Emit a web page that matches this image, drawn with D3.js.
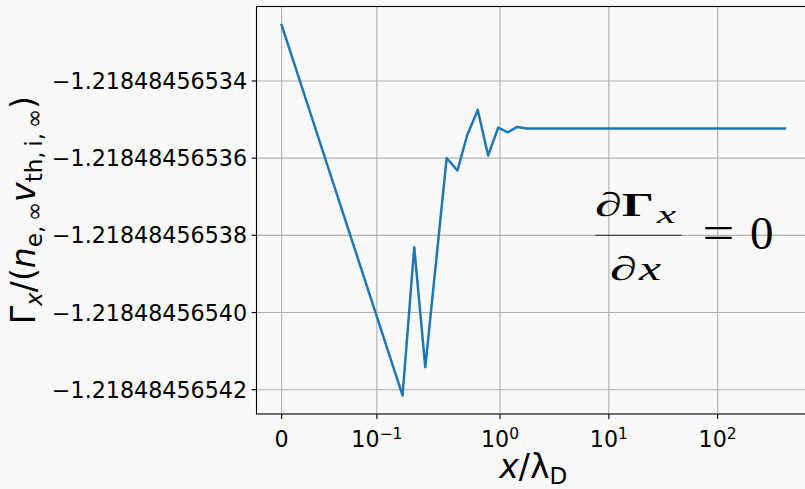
<!DOCTYPE html>
<html>
<head>
<meta charset="utf-8">
<script src="https://cdn.jsdelivr.net/npm/d3@7"></script>
<style>
  html, body { margin: 0; padding: 0; background: #f9f9f9; }
  svg { display: block; font-family: "DejaVu Sans", sans-serif; }
</style>
</head>
<body>
<svg width="805" height="489"></svg>
<script>
// sample positions x / lambda_D
var xValues = [0, 0.127, 0.1627, 0.2055, 0.323, 0.406, 0.4996, 0.624, 0.777, 0.961,
  1.175, 1.436, 1.756, 2.2, 3.5, 10, 40, 150, 415.5];
// normalised particle flux at each sample
var fluxValues = [-1.2184845653255, -1.2184845654215, -1.2184845653831, -1.2184845654142,
  -1.2184845653600, -1.2184845653632, -1.2184845653540, -1.2184845653475, -1.2184845653593,
  -1.2184845653521, -1.2184845653533, -1.2184845653519, -1.2184845653523, -1.2184845653523,
  -1.2184845653523, -1.2184845653523, -1.2184845653523, -1.2184845653523, -1.2184845653523];

var xTickValues = [0, 0.1, 1, 10, 100];
var xTickExponents = [null, '\u22121', '0', '1', '2'];
var yTickValues = [-1.21848456542, -1.21848456540, -1.21848456538, -1.21848456536, -1.21848456534];

// matplotlib style symlog (linthresh, linscale = 1)
var linthresh = 0.127,
  linscaleAdj = 1 / (1 - 1 / 10);

function symlog(v) {
  var a = Math.abs(v);
  var t = a <= linthresh ? a * linscaleAdj : linthresh * (linscaleAdj + Math.log10(a / linthresh));
  return v < 0 ? -t : t;
}

var plotLeft = 256.5, plotRight = 810.1, plotTop = 6.5, plotBottom = 414;
var tickFont = 22.2, labelFont = 33;

var svg = d3.select('svg');
svg.append('rect').attr('width', 805).attr('height', 489).attr('fill', '#f9f9f9');

// 5% margins like matplotlib autoscale
var tExtent = d3.extent(xValues.map(symlog));
var tPad = (tExtent[1] - tExtent[0]) * 0.05;
var xLin = d3.scaleLinear().domain([tExtent[0] - tPad, tExtent[1] + tPad]).range([plotLeft, plotRight]);
function x(v) { return xLin(symlog(v)); }

var yExtent = d3.extent(fluxValues);
var yPad = (yExtent[1] - yExtent[0]) * 0.05;
var y = d3.scaleLinear().domain([yExtent[0] - yPad, yExtent[1] + yPad]).range([plotBottom, plotTop]);

// grid
var grid = svg.append('g').attr('stroke', '#b0b0b0').attr('stroke-width', 1.1);
grid.selectAll('line.vx').data(xTickValues).enter().append('line')
  .attr('x1', x).attr('x2', x).attr('y1', plotTop).attr('y2', plotBottom);
grid.selectAll('line.hy').data(yTickValues).enter().append('line')
  .attr('x1', plotLeft).attr('x2', plotRight).attr('y1', y).attr('y2', y);

// flux curve
var line = d3.line()
  .x(function(d, i) { return x(xValues[i]); })
  .y(function(d) { return y(d); });

svg.append('path')
  .datum(fluxValues)
  .attr('d', line)
  .attr('fill', 'none')
  .attr('stroke', '#1f77b4')
  .attr('stroke-width', 2.5)
  .attr('stroke-linejoin', 'round')
  .attr('stroke-linecap', 'square');

// spines
svg.append('rect')
  .attr('x', plotLeft).attr('y', plotTop)
  .attr('width', plotRight - plotLeft).attr('height', plotBottom - plotTop)
  .attr('fill', 'none').attr('stroke', '#000').attr('stroke-width', 1.1);

// x ticks
var xt = svg.append('g');
xt.selectAll('line').data(xTickValues).enter().append('line')
  .attr('x1', x).attr('x2', x).attr('y1', plotBottom).attr('y2', plotBottom + 4.9)
  .attr('stroke', '#000').attr('stroke-width', 1.1);
xTickValues.forEach(function(v, i) {
  var t = xt.append('text')
    .attr('x', x(v))
    .attr('y', 446.5)
    .attr('text-anchor', 'middle')
    .attr('font-size', tickFont)
    .attr('fill', '#000');
  if (xTickExponents[i] === null) {
    t.text('0');
  } else {
    t.append('tspan').text('10');
    t.append('tspan').attr('font-size', tickFont * 0.7).attr('dy', -8).text(xTickExponents[i]);
  }
});

// y ticks
var yt = svg.append('g');
yt.selectAll('line').data(yTickValues).enter().append('line')
  .attr('x1', plotLeft - 4.9).attr('x2', plotLeft).attr('y1', y).attr('y2', y)
  .attr('stroke', '#000').attr('stroke-width', 1.1);
yt.selectAll('text').data(yTickValues).enter().append('text')
  .attr('x', plotLeft - 9.5)
  .attr('y', function(d) { return y(d) + 8; })
  .attr('text-anchor', 'end')
  .attr('font-size', tickFont)
  .attr('fill', '#000')
  .text(function(d) { return d.toFixed(11).replace('-', '\u2212'); });

// math-ish label from pieces
function mathText(sel, pieces, size) {
  var shift = 0;
  pieces.forEach(function(p) {
    var want = p.sub ? size * 0.2 : 0;
    var ts = sel.append('tspan')
      .attr('dy', want - shift)
      .attr('font-size', p.sub ? size * 0.7 : size)
      .text(p.t);
    if (p.it) ts.attr('font-style', 'italic');
    shift = want;
  });
}

var xLabel = svg.append('text')
  .attr('x', (plotLeft + plotRight) / 2)
  .attr('y', 477.5)
  .attr('text-anchor', 'middle')
  .attr('fill', '#000');
mathText(xLabel, [
  { t: 'x', it: true }, { t: '/\u03bb' }, { t: 'D', sub: true }
], labelFont);

var yLabel = svg.append('text')
  .attr('transform', 'translate(35,' + ((plotTop + plotBottom) / 2) + ') rotate(-90)')
  .attr('text-anchor', 'middle')
  .attr('fill', '#000');
mathText(yLabel, [
  { t: '\u0393' }, { t: 'x', it: true, sub: true }, { t: '/(' },
  { t: 'n', it: true }, { t: 'e,\u2009\u221e', sub: true },
  { t: 'v', it: true }, { t: 'th,\u2009i,\u2009\u221e', sub: true }, { t: ')' }
], labelFont);

// annotation d Gamma_x / dx = 0
var ax = x(50), ay = y(-1.21848456538);
var note = svg.append('g')
  .attr('transform', 'translate(' + ax + ',' + ay + ')')
  .attr('font-family', '"Liberation Serif", serif')
  .attr('fill', '#000');

function glyph(t, gx, gy, size, w, style) {
  var el = note.append('text').attr('x', gx).attr('y', gy).attr('font-size', size)
    .attr('textLength', w).attr('lengthAdjust', 'spacingAndGlyphs').text(t);
  if (style === 'italic') el.attr('font-style', 'italic');
  if (style === 'bold') el.attr('font-weight', 'bold');
  return el;
}

// numerator
glyph('\u2202', -90, -19, 34, 27, 'italic');
glyph('\u0393', -63, -19, 33, 32, 'bold');
glyph('x', -28, -12, 25, 19, 'italic');

note.append('line')
  .attr('x1', -89.5).attr('x2', -3.5).attr('y1', 0).attr('y2', 0)
  .attr('stroke', '#444').attr('stroke-width', 1.2);

// denominator
glyph('\u2202', -75, 44.3, 34, 27, 'italic');
glyph('x', -46, 44.3, 33, 22, 'italic');

glyph('=', 17.5, 12.5, 47, 32);
note.append('text')
  .attr('x', 65).attr('y', 13.6)
  .attr('font-size', 47)
  .text('0');
</script>
</body>
</html>
